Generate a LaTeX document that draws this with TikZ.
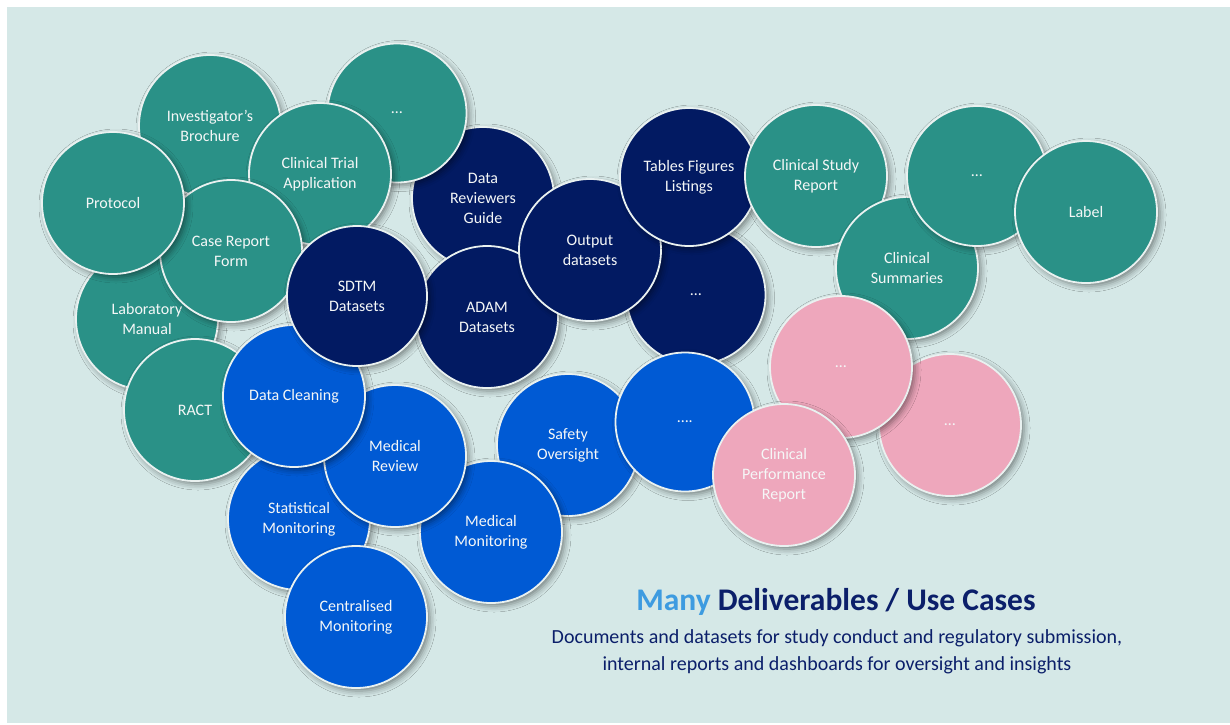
\documentclass[tikz,border=0pt]{standalone}
\usepackage{fontspec}
\setmainfont{Carlito}
\usetikzlibrary{shadows.blur}

\definecolor{bgcol}{HTML}{D5E8E7}
\definecolor{tealc}{HTML}{2A9187}
\definecolor{navyc}{HTML}{021A62}
\definecolor{bluec}{HTML}{005AD4}
\definecolor{pinkc}{HTML}{EEA7BC}
\definecolor{rimc}{HTML}{E9F1F0}
\definecolor{txtc}{HTML}{F5F7F7}
\definecolor{titlenavy}{HTML}{0B1F6A}
\definecolor{manyblue}{HTML}{3D9BE0}

\tikzset{
  bubble/.style={circle, draw=rimc, line width=1.8pt, minimum size=142pt,
    inner sep=0pt, align=center, text=txtc,
    font=\fontsize{16}{20}\selectfont,
    blur shadow={shadow xshift=3pt, shadow yshift=-3pt,
      shadow blur radius=6pt, shadow opacity=45}},
  tealb/.style={bubble, fill=tealc},
  navyb/.style={bubble, fill=navyc},
  blueb/.style={bubble, fill=bluec},
  pinkb/.style={bubble, fill=pinkc}
}

\begin{document}
\begin{tikzpicture}[x=1pt, y=-1pt]
  \useasboundingbox (0,0) rectangle (1230,724);
  \fill[bgcol] (7,7) rectangle (1230,723);

  % study documents (back layer)
  \node[tealb] (ib) at (210,126) {Investigator’s\\Brochure};
  \node[navyb] (drg) at (483,198) {Data\\Reviewers\\Guide};
  \node[tealb, minimum size=139pt] (tdotsa) at (397,113) {…};
  \node[tealb] (cta) at (320,174) {Clinical Trial\\Application};
  \node[tealb] (lab) at (147,319) {Laboratory\\Manual};
  \node[tealb] (crf) at (231,251) {Case Report\\Form};
  \node[tealb] (prot) at (113,203) {Protocol};
  \node[tealb] (ract) at (195,410) {RACT};

  % datasets and oversight
  \node[navyb] (adam) at (487,317) {ADAM\\Datasets};
  \node[navyb, minimum size=139pt] (ndots) at (696,295) {…};
  \node[blueb] (safety) at (568,445) {Safety\\Oversight};
  \node[blueb, minimum size=139pt] (bdots) at (685,422) {….};
  \node[blueb] (medmon) at (491,532) {Medical\\Monitoring};
  \node[blueb] (statmon) at (299,519) {Statistical\\Monitoring};
  \node[blueb] (central) at (356,617) {Centralised\\Monitoring};
  \node[blueb] (medrev) at (395,456) {Medical\\Review};
  \node[blueb] (clean) at (294,396) {Data Cleaning};
  \node[navyb, minimum size=140pt] (sdtm) at (357,296) {SDTM\\Datasets};
  \node[navyb] (output) at (590,250) {Output\\datasets};
  \node[navyb, minimum size=138pt] (tfl) at (689,177) {Tables Figures\\Listings};

  % reports
  \node[tealb] (csr) at (816,176) {Clinical Study\\Report};
  \node[tealb] (summ) at (907,268) {Clinical\\Summaries};
  \node[tealb, minimum size=140pt] (tdotsb) at (977,176) {…};
  \node[tealb] (label) at (1086,212) {Label};
  \node[pinkb] (pdotsb) at (950,425) {…};
  \node[pinkb] (pdotsa) at (841,367) {…};
  \node[pinkb] (cpr) at (784,475) {Clinical\\Performance\\Report};

  % heading
  \node[font=\fontsize{31.5}{36}\selectfont\bfseries, text=titlenavy] (title)
    at (836,602) {\textcolor{manyblue}{Many} Deliverables / Use Cases};
  \node[font=\fontsize{20}{27}\selectfont, text=titlenavy, align=center,
    anchor=north] (sub) at (837,626)
    {Documents and datasets for study conduct and regulatory submission,\\
     internal reports and dashboards for oversight and insights};
\end{tikzpicture}
\end{document}
